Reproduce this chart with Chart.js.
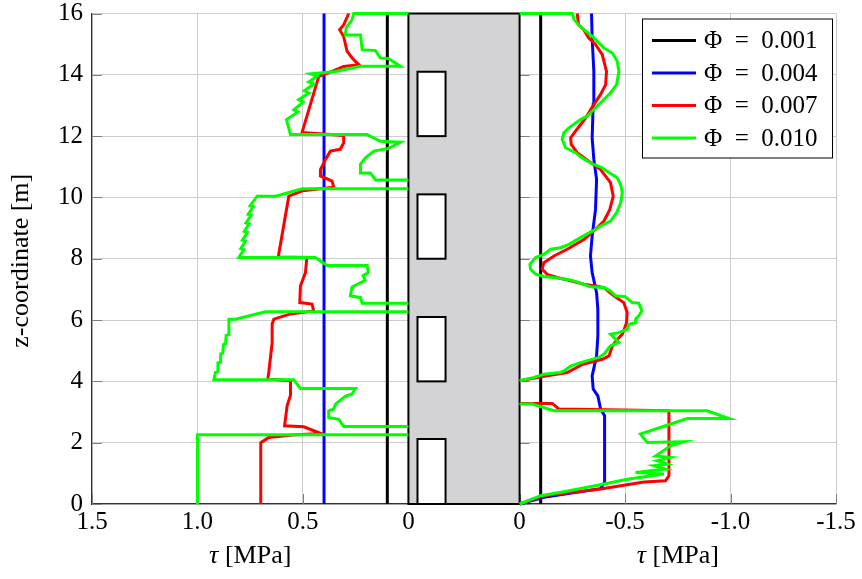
<!DOCTYPE html>
<html>
<head>
<meta charset="utf-8">
<script src="https://cdn.jsdelivr.net/npm/chart.js@4.4.1/dist/chart.umd.min.js"></script>
<style>
html, body { margin: 0; padding: 0; background: #fff; }
</style>
</head>
<body>
<canvas id="tauChart" width="862" height="579"></canvas>
<script>
// width of the wall drawn between both halves, in axis units
const GAP = 0.527;

const zTicks = [0, 2, 4, 6, 8, 10, 12, 14, 16];
const leftTicks = [1.5, 1.0, 0.5, 0];
const rightTicks = [0, -0.5, -1.0, -1.5];
const tickLabels = ['1.5', '1.0', '0.5', '0', '0', '-0.5', '-1.0', '-1.5'];
const phiLabels = ['\u03A6\u2002=\u20020.001', '\u03A6\u2002=\u20020.004', '\u03A6\u2002=\u20020.007', '\u03A6\u2002=\u20020.010'];
const phiColors = ['#000000', '#0000ff', '#ff0000', '#00ff00'];

// openings in the wall [z bottom, z top]
const windowsZ = [[0, 2.12], [4, 6.1], [8, 10.1], [12, 14.1]];

// curves as [tau, z], null = break (line runs along the wall)
const blackLeft = [[0.1, 0], [0.1, 16]];
const blackRight = [[-0.1, 0], [-0.1, 16]];
const blueLeft = [[0.4, 0], [0.4, 16]];
const blueRight = [[0, 0], [-0.115, 0.22], [-0.384, 0.5], [-0.403, 0.71], [-0.403, 2.88], [-0.384, 3.1],
  [-0.371, 3.53], [-0.349, 3.75], [-0.344, 4.18], [-0.365, 4.83], [-0.371, 5.48], [-0.371, 6.35],
  [-0.365, 6.89], [-0.344, 7.55], [-0.336, 8.09], [-0.344, 8.74], [-0.36, 9.61], [-0.365, 10.59],
  [-0.352, 11.24], [-0.344, 11.94], [-0.349, 13.03], [-0.352, 14.11], [-0.344, 15.2], [-0.341, 16]];

const redLeft = [[0.7, 0], [0.7, 2.0], [0.662, 2.17], [0.55, 2.25], [0.415, 2.3], [0.496, 2.52], [0.587, 2.55],
  [0.575, 3.2], [0.559, 3.55], [0.559, 4.02], [0.667, 4.07], [0.662, 4.29], [0.646, 5.26], [0.646, 5.87],
  [0.638, 6.03], [0.559, 6.2], [0.449, 6.3], [0.457, 6.52], [0.515, 6.57], [0.512, 7.11], [0.488, 7.55],
  [0.483, 7.93], [0.48, 8.04], [0.615, 8.06], [0.615, 8.14], [0.567, 10.04], [0.5, 10.22], [0.354, 10.33],
  [0.362, 10.53], [0.417, 10.7], [0.417, 10.91], [0.393, 11.24], [0.37, 11.51], [0.323, 11.57],
  [0.307, 11.78], [0.307, 12.02], [0.504, 12.12], [0.425, 13.95], [0.362, 14.11], [0.307, 14.27],
  [0.235, 14.33], [0.267, 14.55], [0.291, 14.77], [0.307, 15.25], [0.326, 15.47], [0.307, 15.63], [0.283, 16]];
const redRight = [[0, 0], [-0.115, 0.27], [-0.384, 0.49], [-0.59, 0.72], [-0.692, 0.76], [-0.708, 0.92],
  [-0.708, 3.04], [-0.186, 3.1], [-0.155, 3.28], [0, 3.28], null,
  [0, 4.02], [-0.131, 4.18], [-0.226, 4.29], [-0.3, 4.56], [-0.392, 4.72], [-0.424, 4.83], [-0.44, 5.16],
  [-0.463, 5.37], [-0.487, 5.54], [-0.502, 5.81], [-0.507, 5.92], [-0.51, 6.25], [-0.494, 6.57],
  [-0.447, 6.79], [-0.4, 7.06], [-0.36, 7.11], [-0.305, 7.17], [-0.242, 7.28], [-0.178, 7.39],
  [-0.131, 7.49], [-0.107, 7.66], [-0.115, 7.87], [-0.163, 8.09], [-0.226, 8.31], [-0.305, 8.63],
  [-0.36, 8.96], [-0.4, 9.23], [-0.428, 9.61], [-0.444, 10.04], [-0.431, 10.48], [-0.384, 10.91],
  [-0.328, 11.18], [-0.273, 11.46], [-0.245, 11.73], [-0.242, 11.94], [-0.265, 12.16], [-0.313, 12.59],
  [-0.352, 13.03], [-0.384, 13.36], [-0.408, 13.68], [-0.412, 14.11], [-0.392, 14.66], [-0.36, 14.99],
  [-0.328, 15.2], [-0.304, 15.47], [-0.28, 15.63], [-0.273, 16]];

const greenLeft = [[1.0, 0], [1.0, 2.26], [0, 2.26], null,
  [0, 2.53], [0.307, 2.53], [0.33, 2.76], [0.378, 2.82], [0.378, 3.04], [0.354, 3.1], [0.346, 3.26],
  [0.299, 3.51], [0.267, 3.59], [0.251, 3.77], [0.512, 3.77], [0.544, 4.05], [0.922, 4.05], [0.915, 4.29],
  [0.905, 4.31], [0.903, 4.6], [0.893, 4.62], [0.89, 4.9], [0.88, 4.92], [0.877, 5.2], [0.867, 5.22],
  [0.864, 5.5], [0.854, 5.52], [0.851, 5.8], [0.851, 6.03], [0.82, 6.03], [0.678, 6.27], [0, 6.27], null,
  [0, 6.55], [0.219, 6.55], [0.227, 6.73], [0.275, 6.79], [0.267, 7.08], [0.205, 7.3], [0.215, 7.45],
  [0.19, 7.55], [0.196, 7.78], [0.385, 7.78], [0.441, 8.04], [0.804, 8.04], [0.78, 8.3], [0.795, 8.33],
  [0.772, 8.58], [0.787, 8.61], [0.763, 8.86], [0.778, 8.89], [0.755, 9.14], [0.77, 9.17], [0.745, 9.42],
  [0.76, 9.45], [0.735, 9.7], [0.75, 9.73], [0.717, 10.04], [0.63, 10.04], [0.504, 10.28], [0, 10.28], null,
  [0, 10.57], [0.156, 10.57], [0.18, 10.8], [0.227, 10.8], [0.227, 11.08], [0.204, 11.29], [0.164, 11.51],
  [0.095, 11.6], [0.038, 11.8], [0.133, 11.83], [0.196, 12.05], [0.559, 12.05], [0.578, 12.54],
  [0.524, 12.79], [0.543, 12.86], [0.499, 13.11], [0.52, 13.19], [0.472, 13.41], [0.493, 13.48],
  [0.449, 13.7], [0.472, 13.77], [0.433, 13.95], [0.464, 14.03], [0.346, 14.11], [0.227, 14.28],
  [0.038, 14.28], [0.095, 14.53], [0.133, 14.55], [0.156, 14.79], [0.219, 14.82], [0.227, 15.3],
  [0.299, 15.3], [0.295, 15.53], [0.267, 15.8], [0.259, 16], [0, 16]];
const greenRight = [[0, 0], [-0.1, 0.27], [-0.21, 0.4], [-0.4, 0.65], [-0.51, 0.81], [-0.684, 0.98],
  [-0.55, 1.03], [-0.692, 1.14], [-0.637, 1.25], [-0.7, 1.3], [-0.652, 1.41], [-0.716, 1.52],
  [-0.645, 1.57], [-0.716, 1.9], [-0.779, 2.03], [-0.605, 2.01], [-0.573, 2.28], [-0.795, 2.79],
  [-0.992, 2.79], [-0.889, 3.04], [-0.163, 3.04], [-0.06, 3.26], [0, 3.26], null,
  [0, 4.02], [-0.068, 4.13], [-0.115, 4.23], [-0.194, 4.29], [-0.21, 4.34], [-0.242, 4.5], [-0.289, 4.61],
  [-0.376, 4.78], [-0.4, 4.89], [-0.431, 5.16], [-0.471, 5.27], [-0.431, 5.54], [-0.47, 5.59],
  [-0.51, 5.7], [-0.52, 5.86], [-0.55, 5.92], [-0.55, 6.03], [-0.565, 6.14], [-0.58, 6.3], [-0.565, 6.55],
  [-0.534, 6.57], [-0.502, 6.76], [-0.455, 6.79], [-0.431, 6.95], [-0.4, 7.06], [-0.336, 7.09],
  [-0.289, 7.2], [-0.242, 7.31], [-0.178, 7.37], [-0.115, 7.42], [-0.076, 7.5], [-0.052, 7.66],
  [-0.049, 7.82], [-0.076, 8.04], [-0.115, 8.14], [-0.147, 8.31], [-0.194, 8.36], [-0.234, 8.47],
  [-0.289, 8.69], [-0.344, 8.9], [-0.384, 9.07], [-0.431, 9.23], [-0.46, 9.5], [-0.479, 9.82],
  [-0.487, 10.15], [-0.479, 10.42], [-0.463, 10.64], [-0.427, 10.8], [-0.39, 10.97], [-0.345, 11.09],
  [-0.297, 11.29], [-0.265, 11.46], [-0.218, 11.62], [-0.202, 11.9], [-0.21, 12.11], [-0.234, 12.27],
  [-0.289, 12.54], [-0.32, 12.65], [-0.344, 12.81], [-0.376, 13.03], [-0.431, 13.41], [-0.46, 13.68],
  [-0.471, 14.11], [-0.463, 14.44], [-0.44, 14.71], [-0.4, 14.87], [-0.344, 15.26], [-0.289, 15.56],
  [-0.258, 15.8], [-0.25, 16], [0, 16]];

const FONT = "'Liberation Serif', 'Times New Roman', serif";

// left half runs 1.5 -> 0, right half 0 -> -1.5, wall in between
const leftX = t => 1.5 - t;
const rightX = t => 1.5 + GAP - t;
const toPoints = (curve, map) => curve.map(p => p === null ? {x: null, y: null} : {x: map(p[0]), y: p[1]});
const tickPos = leftTicks.map(leftX).concat(rightTicks.map(rightX));

function curveSet(curve, map, idx) {
    return {
        label: phiLabels[idx],
        data: toPoints(curve, map),
        showLine: true,
        borderColor: phiColors[idx],
        backgroundColor: phiColors[idx],
        borderWidth: 3,
        pointRadius: 0,
        fill: false,
        clip: 4,
        order: 3 - idx
    };
}

const wallPlugin = {
    id: 'wall',
    beforeDatasetsDraw(chart) {
        const {ctx, chartArea: a, scales: {x, y}} = chart;
        const x0 = x.getPixelForValue(1.5), x1 = x.getPixelForValue(1.5 + GAP);
        ctx.save();
        // small inner tick marks
        ctx.strokeStyle = '#808080';
        ctx.lineWidth = 1;
        ctx.beginPath();
        zTicks.forEach(v => {
            const py = Math.round(y.getPixelForValue(v)) + 0.5;
            ctx.moveTo(a.left, py); ctx.lineTo(a.left + 10, py);
            ctx.moveTo(x1, py); ctx.lineTo(x1 + 10, py);
        });
        tickPos.forEach(v => {
            const px = Math.round(x.getPixelForValue(v)) + 0.5;
            ctx.moveTo(px, a.bottom); ctx.lineTo(px, a.bottom - 10);
        });
        ctx.stroke();
        // the wall
        ctx.fillStyle = '#d3d3d5';
        ctx.fillRect(x0, a.top, x1 - x0, a.bottom - a.top);
        ctx.strokeStyle = '#000';
        ctx.lineWidth = 2;
        ctx.strokeRect(x0, a.top, x1 - x0, a.bottom - a.top);
        const wx0 = x.getPixelForValue(1.5 + 0.043), wx1 = x.getPixelForValue(1.5 + 0.176);
        windowsZ.forEach(w => {
            const yb = y.getPixelForValue(w[0]), yt = y.getPixelForValue(w[1]);
            ctx.fillStyle = '#fff';
            ctx.fillRect(wx0, yt, wx1 - wx0, yb - yt);
            ctx.strokeRect(wx0, yt, wx1 - wx0, yb - yt);
        });
        ctx.restore();
    },
    afterDraw(chart) {
        const {ctx, chartArea: a, scales: {x}} = chart;
        ctx.save();
        ctx.fillStyle = '#000';
        ctx.font = '26px ' + FONT;
        // y title
        ctx.save();
        ctx.translate(21, (a.top + a.bottom) / 2 + 2);
        ctx.rotate(-Math.PI / 2);
        ctx.textAlign = 'center';
        ctx.textBaseline = 'middle';
        ctx.fillText('z-coordinate [m]', 0, 0);
        ctx.restore();
        // x titles, one under each half
        [x.getPixelForValue(0.75), x.getPixelForValue(2.25 + GAP)].forEach(cx => {
            ctx.textBaseline = 'middle';
            ctx.textAlign = 'left';
            ctx.font = 'italic 26px ' + FONT;
            const w1 = ctx.measureText('\u03C4').width;
            ctx.font = '26px ' + FONT;
            const w2 = ctx.measureText(' [MPa]').width;
            const sx = cx - (w1 + w2) / 2;
            ctx.font = 'italic 26px ' + FONT;
            ctx.fillText('\u03C4', sx, 556);
            ctx.font = '26px ' + FONT;
            ctx.fillText(' [MPa]', sx + w1, 556);
        });
        // legend
        ctx.font = '25px ' + FONT;
        const bx = a.right - 194, by = a.top + 5, bw = 190, bh = 139;
        ctx.fillStyle = '#fff';
        ctx.fillRect(bx, by, bw, bh);
        ctx.strokeStyle = '#000';
        ctx.lineWidth = 1;
        ctx.strokeRect(bx + 0.5, by + 0.5, bw, bh);
        phiLabels.forEach((lab, i) => {
            const ry = by + 22 + i * 32.5;
            ctx.strokeStyle = phiColors[i];
            ctx.lineWidth = 3;
            ctx.beginPath();
            ctx.moveTo(bx + 10, ry);
            ctx.lineTo(bx + 54, ry);
            ctx.stroke();
            ctx.fillStyle = '#000';
            ctx.textAlign = 'left';
            ctx.textBaseline = 'middle';
            ctx.fillText(lab, bx + 62, ry + 1);
        });
        ctx.restore();
    }
};

new Chart(document.getElementById('tauChart'), {
    type: 'scatter',
    data: {
        datasets: [
            curveSet(blackLeft, leftX, 0), curveSet(blackRight, rightX, 0),
            curveSet(blueLeft, leftX, 1), curveSet(blueRight, rightX, 1),
            curveSet(redLeft, leftX, 2), curveSet(redRight, rightX, 2),
            curveSet(greenLeft, leftX, 3), curveSet(greenRight, rightX, 3)
        ]
    },
    options: {
        responsive: false,
        animation: false,
        devicePixelRatio: 1,
        layout: {padding: {top: 13.5, right: 26, left: 0, bottom: 0}},
        plugins: {legend: {display: false}, tooltip: {enabled: false}},
        scales: {
            x: {
                type: 'linear',
                min: 0,
                max: 3 + GAP,
                afterBuildTicks: axis => { axis.ticks = tickPos.map(v => ({value: v})); },
                afterFit: axis => { axis.height = 75; axis.paddingLeft = 0; axis.paddingRight = 0; },
                ticks: {
                    autoSkip: false,
                    maxRotation: 0,
                    padding: 3,
                    color: '#000',
                    font: {family: FONT, size: 25},
                    callback: (v, i) => tickLabels[i]
                },
                grid: {color: '#cccccc', lineWidth: 1, drawTicks: false},
                border: {color: '#333', width: 1.2}
            },
            y: {
                min: 0,
                max: 16,
                afterBuildTicks: axis => { axis.ticks = zTicks.map(v => ({value: v})); },
                afterFit: axis => { axis.width = 92; axis.paddingTop = 0; axis.paddingBottom = 0; },
                ticks: {
                    padding: 9,
                    color: '#000',
                    font: {family: FONT, size: 25, lineHeight: 1},
                    callback: v => String(v)
                },
                grid: {color: '#cccccc', lineWidth: 1, drawTicks: false},
                border: {color: '#333', width: 1.2}
            }
        }
    },
    plugins: [wallPlugin]
});
</script>
</body>
</html>
